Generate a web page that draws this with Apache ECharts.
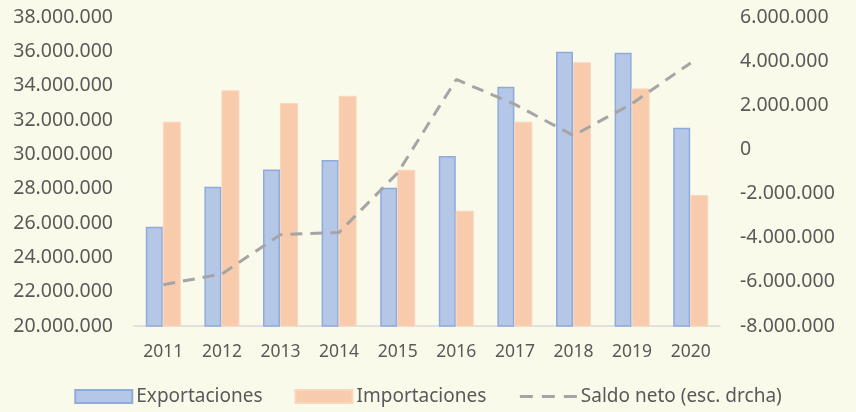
<!DOCTYPE html>
<html>
<head>
<meta charset="utf-8">
<script src="https://cdn.jsdelivr.net/npm/echarts@6/dist/echarts.min.js"></script>
<style>
html,body{margin:0;padding:0;background:#fafaeb;}
#c{width:856px;height:412px;}
</style>
</head>
<body>
<div id="c"></div>
<script>
const years = ['2011','2012','2013','2014','2015','2016','2017','2018','2019','2020'];
const exportaciones = [25780000, 28110000, 29120000, 29670000, 28050000, 29900000, 33940000, 35980000, 35920000, 31550000];
const importaciones = [31900000, 33730000, 32990000, 33410000, 29100000, 26720000, 31900000, 35360000, 33840000, 27630000];
const saldoNeto = [-6130000, -5640000, -3860000, -3760000, -1060000, 3170000, 2040000, 630000, 2080000, 3920000];

function fmt(v){
  const neg = v < 0;
  const s = Math.abs(Math.round(v)).toString().replace(/\B(?=(\d{3})+(?!\d))/g, '.');
  return (neg ? '-' : '') + s;
}

const FONT = 'Noto Sans';
const TXT = '#595959';

const chart = echarts.init(document.getElementById('c'));
chart.setOption({
  backgroundColor: '#fafaeb',
  animation: false,
  textStyle: {fontFamily: FONT, color: TXT},
  grid: {left: 134, right: 136, top: 17, bottom: 86, containLabel: false},
  legend: {
    left: 'center',
    bottom: 1,
    itemWidth: 57,
    itemHeight: 13,
    itemGap: 32,
    textStyle: {fontFamily: FONT, fontSize: 19, color: TXT, padding: [0,0,0,-1]},
    data: [
      {name: 'Exportaciones', icon: 'rect'},
      {name: 'Importaciones', icon: 'rect'},
      {name: 'Saldo neto (esc. drcha)', itemStyle: {opacity: 0},
       lineStyle: {color: '#a5a5a5', width: 3, type: [13, 9]}}
    ]
  },
  xAxis: {
    type: 'category',
    data: years,
    axisLine: {onZero: false, lineStyle: {color: '#d9d9d9', width: 1.5}},
    axisTick: {show: false},
    axisLabel: {fontFamily: FONT, fontSize: 17.5, color: TXT, margin: 17}
  },
  yAxis: [
    {
      type: 'value', min: 20000000, max: 38000000, interval: 2000000,
      axisLine: {show: false}, axisTick: {show: false}, splitLine: {show: false},
      axisLabel: {fontFamily: FONT, fontSize: 19.5, color: TXT, margin: 21, formatter: fmt}
    },
    {
      type: 'value', min: -8000000, max: 6000000, interval: 2000000, position: 'right',
      axisLine: {show: false}, axisTick: {show: false}, splitLine: {show: false},
      axisLabel: {fontFamily: FONT, fontSize: 19.5, color: TXT, margin: 20, formatter: fmt}
    }
  ],
  series: [
    {
      name: 'Exportaciones', type: 'bar', data: exportaciones,
      barWidth: 17, barGap: '0%',
      itemStyle: {color: '#b4c7e7', borderColor: '#8faadc', borderWidth: 1.5}
    },
    {
      name: 'Importaciones', type: 'bar', data: importaciones,
      barWidth: 18, barGap: '0%',
      itemStyle: {color: '#f8cbad', borderColor: '#fad6bd', borderWidth: 1}
    },
    {
      name: 'Saldo neto (esc. drcha)', type: 'line', yAxisIndex: 1, data: saldoNeto,
      symbol: 'none', z: 5,
      lineStyle: {color: '#a5a5a5', width: 3, type: [12, 8]},
      itemStyle: {color: '#a5a5a5'}
    }
  ]
});
</script>
</body>
</html>
